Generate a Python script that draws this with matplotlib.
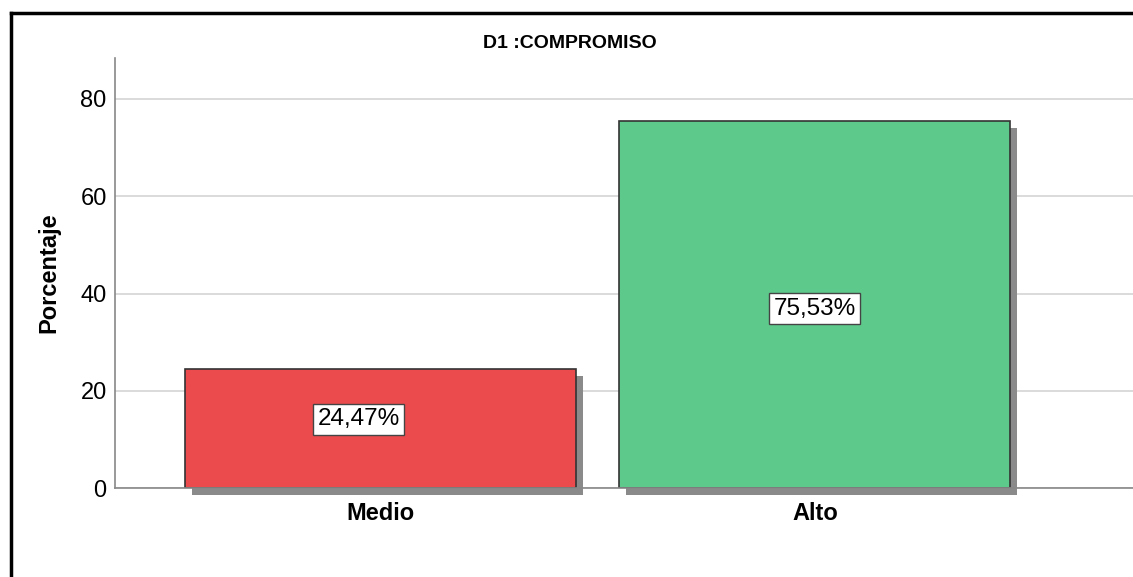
import matplotlib.pyplot as plt
from matplotlib.lines import Line2D

# data
categorias = ["Medio", "Alto"]
porcentajes = [24.47, 75.53]
etiquetas = ["24,47%", "75,53%"]
colores = ["#eb4b4d", "#5dca8b"]
yticks = [0, 20, 40, 60, 80]

plt.rcParams['font.family'] = ['Liberation Sans', 'DejaVu Sans']

fig = plt.figure(figsize=(11.33, 5.77), dpi=100)
ax = fig.add_axes([0.1015, 0.154, 0.8985, 0.7455])

x = list(range(len(categorias)))
w = 0.9

# shadow behind the bars
for i, v in zip(x, porcentajes):
    ax.bar(i + 0.016, v, width=w, bottom=-1.45, color="#8a8a8a", zorder=2,
           clip_on=False)

bars = ax.bar(x, porcentajes, width=w, color=colores, edgecolor="#333333",
              linewidth=1.2, zorder=3)

# labels in boxes
offsets = [(-0.05, 1.9), (0.0, -0.9)]
for i, v, t, (dx, dy) in zip(x, porcentajes, etiquetas, offsets):
    ax.text(i + dx, v / 2 + dy, t, ha="center", va="center", fontsize=17.5,
            zorder=5,
            bbox=dict(boxstyle="square,pad=0.18", fc="white", ec="#444444", lw=1))

ax.set_xlim(-0.611, 1.732)
ax.set_ylim(0, 88.4)
ax.set_yticks(yticks)
ax.set_xticks(x)
ax.set_xticklabels(categorias, fontsize=17, fontweight="bold")
ax.tick_params(axis="both", length=0, labelsize=17)
ax.tick_params(axis="x", pad=10)
ax.tick_params(axis="y", pad=6)
ax.grid(axis="y", color="#d4d4d4", linewidth=1.2, zorder=0)
ax.set_axisbelow(True)

for s in ["top", "right"]:
    ax.spines[s].set_visible(False)
ax.spines["left"].set_color("#888888")
ax.spines["bottom"].set_color("#888888")
ax.spines["left"].set_linewidth(1.2)
ax.spines["bottom"].set_linewidth(1.2)
ax.spines["bottom"].set_zorder(4)

ax.set_ylabel("Porcentaje", fontsize=17, fontweight="bold", labelpad=14)
fig.text(0.503, 0.925, "D1 :COMPROMISO", ha="center", va="center",
         fontsize=14, fontweight="bold")

# black frame on left and top
fig.add_artist(Line2D([0.0098, 0.0098], [0, 0.978], color="black", lw=2.5,
                      transform=fig.transFigure))
fig.add_artist(Line2D([0.0098, 1], [0.978, 0.978], color="black", lw=2.5,
                      transform=fig.transFigure))

fig.savefig("out.png", dpi=100)
